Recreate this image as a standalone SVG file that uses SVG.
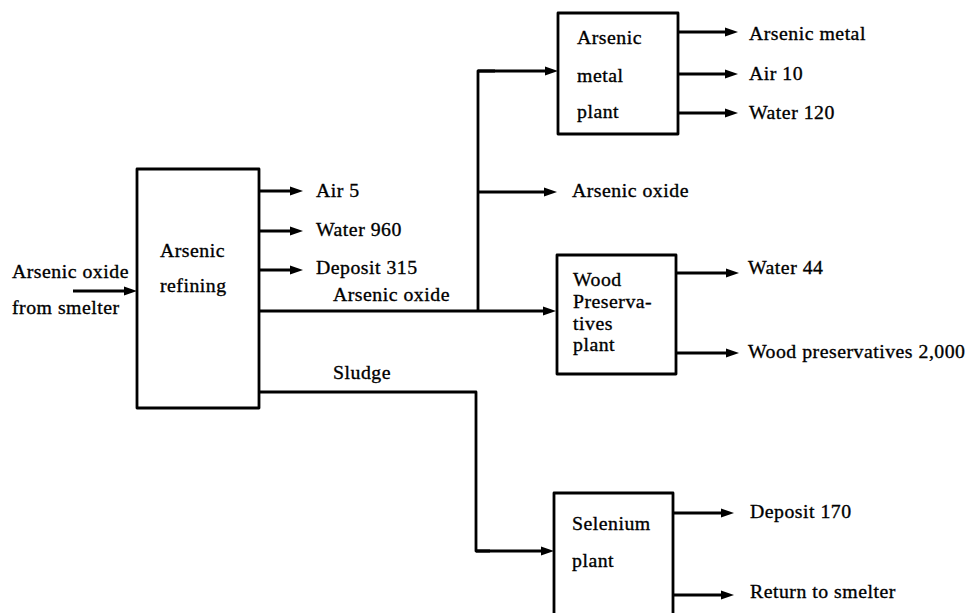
<svg xmlns="http://www.w3.org/2000/svg" width="968" height="613" viewBox="0 0 968 613">
<defs>
<style>
text{font-family:"Liberation Serif","Times New Roman",serif;font-size:19.8px;fill:#000;letter-spacing:0.5px;stroke:#000;stroke-width:0.35px}
.box{fill:#fff;stroke:#000;stroke-width:2.8;stroke-linejoin:round}
.ln{fill:none;stroke:#000;stroke-width:2.8;stroke-linejoin:round}
.ar{fill:none;stroke:#000;stroke-width:2.8;marker-end:url(#ah)}
</style>
<marker id="ah" markerUnits="userSpaceOnUse" markerWidth="14" markerHeight="10" refX="6" refY="5" orient="auto">
<path d="M0,0.5 L13,5 L0,9.5 Z" fill="#000"/>
</marker>
</defs>
<rect width="968" height="613" fill="#fff"/>
<g id="connectors">
<line class="ar" x1="73" y1="291" x2="130" y2="291"/>
<line class="ar" x1="259" y1="191" x2="296" y2="191"/>
<line class="ar" x1="259" y1="231" x2="296" y2="231"/>
<line class="ar" x1="259" y1="270" x2="296" y2="270"/>
<line class="ar" x1="259" y1="311" x2="549" y2="311"/>
<polyline class="ln" points="478,311 478,71 495,71"/>
<line class="ar" x1="478" y1="71" x2="551" y2="71"/>
<line class="ar" x1="478" y1="192" x2="550" y2="192"/>
<polyline class="ln" points="259,392 476,392 476,551 490,551"/>
<line class="ar" x1="476" y1="551" x2="547" y2="551"/>
<line class="ar" x1="678" y1="32" x2="731" y2="32"/>
<line class="ar" x1="678" y1="74" x2="731" y2="74"/>
<line class="ar" x1="678" y1="113" x2="731" y2="113"/>
<line class="ar" x1="676" y1="273" x2="732" y2="273"/>
<line class="ar" x1="676" y1="353" x2="732" y2="353"/>
<line class="ar" x1="673" y1="513" x2="727" y2="513"/>
<line class="ar" x1="673" y1="595" x2="727" y2="595"/>
</g>
<g id="labels">
<text x="12" y="278">Arsenic oxide</text>
<text x="12" y="314">from smelter</text>
<text x="316" y="197">Air 5</text>
<text x="316" y="236">Water 960</text>
<text x="316" y="274">Deposit 315</text>
<text x="333" y="301">Arsenic oxide</text>
<text x="333" y="379">Sludge</text>
<text x="572" y="197">Arsenic oxide</text>
<text x="749" y="40">Arsenic metal</text>
<text x="749" y="80">Air 10</text>
<text x="749" y="119">Water 120</text>
<text x="748" y="274">Water 44</text>
<text x="748" y="358">Wood preservatives 2,000</text>
<text x="750" y="518">Deposit 170</text>
<text x="750" y="598">Return to smelter</text>
</g>
<g id="refining">
<rect class="box" x="137" y="169" width="122" height="239"/>
<text x="160" y="257">Arsenic</text>
<text x="160" y="292">refining</text>
</g>
<g id="metal">
<rect class="box" x="558" y="13" width="120" height="121"/>
<text x="577" y="44">Arsenic</text>
<text x="577" y="82">metal</text>
<text x="577" y="118">plant</text>
</g>
<g id="wood">
<rect class="box" x="557" y="255" width="119" height="119"/>
<text x="573" y="286">Wood</text>
<text x="573" y="308">Preserva-</text>
<text x="573" y="330">tives</text>
<text x="573" y="351">plant</text>
</g>
<g id="selenium">
<rect class="box" x="554" y="493" width="119" height="135"/>
<text x="572" y="530">Selenium</text>
<text x="572" y="567">plant</text>
</g>
</svg>
